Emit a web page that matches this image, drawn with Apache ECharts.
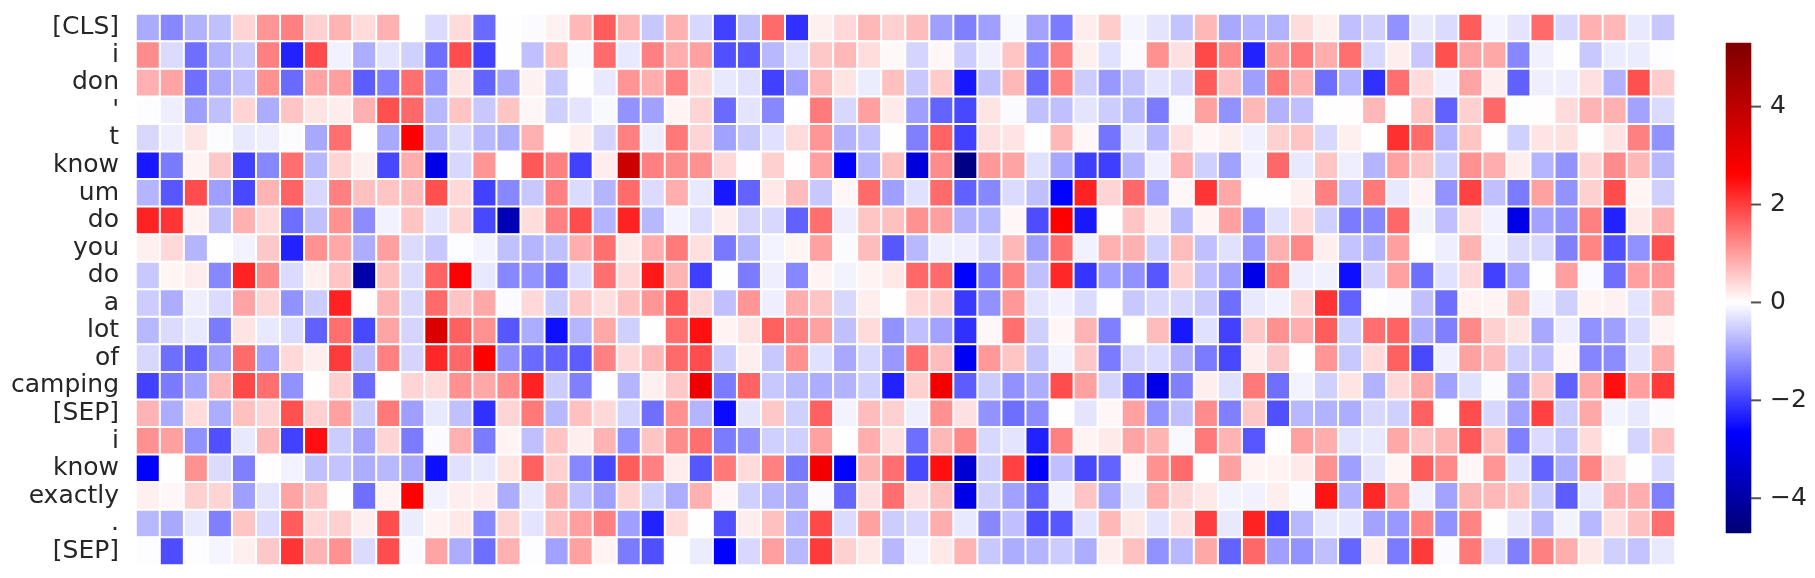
<!DOCTYPE html>
<html><head><meta charset="utf-8">
<style>html,body{margin:0;padding:0;background:#fff}#c{width:1815px;height:578px}</style>
<script src="https://cdn.jsdelivr.net/npm/echarts@6/dist/echarts.min.js"></script>
</head><body><div id="c"></div>
<script>
const tokens = ['[CLS]','i','don',"'",'t','know','um','do','you','do','a','lot','of','camping','[SEP]','i','know','exactly','.','[SEP]'];
const r00=[-.88,-1.24,-.8,-.65,.45,1.1,1.32,.49,.78,.37,.82,0,-.37,.37,-1.55,0,-.05,.15,.74,1.7,.78,-.57,.82,-.4,-1.97,-.65,1.55,-2.15,.16,.4,.74,.49,.7,-1,-1.32,-1,-.07,-.95,-1.37,.2,.53,-.1,-.28,-.62,.74,-.9,-.78,-.8,.36,.16,-.65,-.49,-1.15,-.24,-.37,1.7,-.1,-.28,1.55,-.4,.82,.74,-.24,-.57];
const r01=[1.2,-.37,-1.5,-.8,-.57,1.32,-2.3,1.87,-.14,-.85,-.28,-.49,-1.5,1.85,-1.97,0,-.65,.65,-.07,1.55,-.24,1.32,.85,.98,-1.82,-1.74,-.74,-.32,.57,.74,.35,.07,-.45,.08,-.53,-.16,.6,-1.24,1.32,.16,-.32,-.05,1.15,.32,1.9,1.2,-2.3,1.07,1.37,.85,1.5,-.4,.18,-.57,1.82,.95,.9,-1.24,-.16,0,-.57,-.2,-.2,-.02];
const r02=[.82,.95,-1.5,-.9,-.65,1.15,-1.55,.95,1,-1.7,-1.32,1.5,-1.15,.28,-1.62,-.9,.15,-.57,0,-.24,1.1,.85,1.32,.37,-.24,-.32,-1.97,-1,.74,.28,-.2,.65,-.57,.53,-2.4,-.65,.74,-1.55,1.32,-.53,-1.07,-.62,-.28,-.4,1.7,.65,-1,1.4,.82,-1.5,-.78,-2.15,1.5,.37,-.16,.95,.18,-1.65,-.18,-.18,.32,-.8,1.82,.53];
const r03=[-.02,-.18,-1,-.65,.45,-.85,.6,.28,.2,.82,1.82,1.57,-.74,.6,-.57,.6,.08,-.49,-.28,-.07,-1.12,-.98,.12,.45,-1.55,-.28,-1.24,0,1.37,-.4,1,.22,-1,-1.62,-1.9,.28,-.05,-.65,-.65,-.28,-.53,-.74,-1.37,-.05,.98,-1.15,.74,-.8,-.65,0,.02,.74,0,.6,-1.65,.49,1.57,0,.01,.37,.78,.82,-.95,-.37];
const r04=[-.4,-.18,.28,-.03,-.24,-.18,-.03,-.9,1.5,0,-.9,2.65,-.74,-.37,-.74,-.85,.82,.02,.16,-.45,1.32,-.18,1.4,.45,-.98,-.57,-.32,.37,1.1,-.8,-.62,0,-1.32,1.62,-1.97,.32,.28,0,.74,.08,-1.45,-.24,-.74,.32,.08,.18,-.16,.49,.6,-.4,.16,0,2.15,1.55,-.78,.6,0,-.49,.28,.32,0,.28,1.32,-1.12];
const r05=[-2.4,-1.37,.12,.57,-1.97,-1.24,1.5,-.74,.45,.16,-1.9,.85,-3,-.4,1.1,0,1.74,1.32,-1.97,.2,3.7,1.32,1.2,1.15,.4,.02,.49,.02,.98,-2.65,-.78,.65,-3.15,1.2,-4.45,1.07,.95,-.32,-.9,-2,-2,-.78,-.16,.82,-.49,-.98,-.14,1.57,-.24,.6,-.18,-.78,.98,.6,-.49,1.15,.85,.18,-.78,-1.12,.45,1.2,.74,-.74];
const r06=[-.78,-1.74,1.85,-1,-1.9,.78,1.62,-.4,1.32,.65,.6,.7,1.82,.4,-1.97,-1.24,-.57,1.32,-.37,-.78,1.55,-.37,.85,-.24,-2.4,-1.62,.24,.7,-.57,.08,1.55,-1,-.32,1.55,-1.65,-1.24,-.37,-.65,-2.65,2.3,.45,1.57,-.98,.08,2.1,.9,0,0,.16,1.32,-.65,1.4,-.24,.12,-1.12,1.97,-.65,-1.37,.98,-1.12,.49,1.85,.1,-.49];
const r07=[2.3,2.1,.12,-.65,.82,.37,-1.5,-.65,1.15,-1.2,-.14,.6,-.28,.45,-1.9,-3.75,.35,1.32,1.85,-.78,2.3,-.74,-.12,-.35,.18,-.45,-.4,-1.65,1.5,-.18,.6,.65,1.15,1,-.8,-.74,.08,-1.85,2.65,-2.4,0,.6,.18,-.74,.12,.98,-1.12,-.32,.4,-.49,-1.37,-1.24,1.57,-.12,-.65,.32,-.14,-3,-.95,-1.12,1.32,-2.3,.22,.82];
const r08=[.16,.4,-.78,-.01,-.12,.57,-2.3,1.15,.9,-.85,1,-.37,-.57,-.02,-.12,-.65,-.78,-.65,.85,1.5,.22,.85,1.37,.32,-1.4,-.78,-.12,.1,.98,-.05,.7,-1.74,-.74,-.18,-.18,-.37,.74,-1,1.5,-.14,.82,.82,-.49,.7,-.65,-.32,-1.07,.82,1.24,.18,-.62,-.8,1,0,-.18,.78,-.12,-.37,-.4,-1.32,1.27,-1.82,-1.15,1.82];
const r09=[-.57,.1,.2,-1.24,2.3,1.2,-.37,.16,.6,-3.9,.65,-.37,1.62,2.65,-.24,-1.24,-1.12,-1.5,-.37,1.5,.4,2.4,.78,-2,0,-1.37,-.18,-1.24,.12,-.12,.12,.24,1.57,1.55,-2.65,-1.4,1.32,-.65,2.25,-2.1,-1,-1.15,-1.74,.49,-.65,-1,-3,1.4,-.18,-.16,-2.5,-.45,.98,-1.5,-.32,.4,-1.97,-.95,0,1,-.05,-1.5,1,1.07];
const r10=[-.53,-.85,-.18,-.37,.95,.45,-1.15,-.53,2.3,0,.78,-.4,1.55,.6,.9,-.05,.4,-.53,.57,.32,.65,1.1,1.74,.4,-.65,1.1,-.18,.85,.6,-.4,.18,0,.4,.49,-2.05,-1.15,1.07,-.28,-.14,-.37,0,-.57,-.4,-.4,-.57,-1.5,-.24,-.14,.45,2.1,-1.65,0,-.05,-.65,-1.5,.12,.12,.65,-.14,-.49,.12,.14,-.28,.74];
const r11=[-.74,-.37,-.24,-1.37,.28,-.24,-.37,-1.65,1.5,-1.9,.95,-.45,3.4,1.65,1.15,-1.74,-.85,-2.5,-.78,.9,-.49,0,1.5,2.5,.12,.28,1.65,1.32,.98,-.65,.37,-1.12,-.65,-.95,-2.15,.08,1.5,-.49,.08,.78,-1.32,0,.7,-2.4,-.32,-1.97,.57,1.15,.85,1.7,-.49,1.5,1.62,-.85,-1.32,1.24,.49,.28,-.9,-.18,-1.15,-1,-.37,.12];
const r12=[-.4,-1.5,-1.65,-.98,1.55,-.98,.4,.18,2.05,-.65,1.32,-.45,2.25,1.57,2.65,-1.15,-1.55,-1.62,-1.7,1.32,.4,.74,1.55,1.85,-.53,.18,-.57,1.15,-.32,-.9,-.4,-1.07,1.5,.7,-2.8,1.07,.6,-.62,-.12,.57,-1.37,-.45,-.37,-.8,-1.37,-1.9,.18,.57,0,1.1,-.57,.37,1.65,-1.9,-.16,.98,.7,-.49,-.65,.08,-1.27,-1.2,-.28,.85];
const r13=[-1.97,-1.37,-.98,.74,1.9,1.5,-1.15,0,.49,-1.55,0,.45,.37,1.15,.9,1.2,2.3,-.53,-1.32,0,-.78,.16,.57,3,-1.37,1.62,-.57,-.74,-.85,-.8,-.49,-2.3,.49,2.85,-1.7,-.53,-1.15,-.85,1.85,.98,-.45,-1.55,-3,-1.32,.18,-.32,1.4,-1.5,-.12,-.49,.28,-.8,.4,.9,-.98,-.32,-.05,-1,.57,-1.65,.9,2.5,1,2.05];
const r14=[.78,-.85,.37,-.85,.65,.45,1.82,.49,.98,-.53,1.4,-1,-.24,-.65,-2.15,.45,1.4,-.74,.65,.4,-.45,-1.5,1.15,-.78,-2.55,-.28,.57,-.49,1.65,-.12,.7,.49,-.18,1.15,.32,-1.12,-1.5,-1.2,0,-.28,.08,.98,-1.12,-.65,1.2,-1.32,.57,-1.82,-.74,-.8,-.85,-.4,-.49,1.65,0,1.85,-.4,-.95,1.97,-.53,.9,-.12,-.24,-.05];
const r15=[1.15,1,-1.15,-1.82,-.24,.74,-1.97,2.5,-.53,-.95,.45,-1.37,-.05,.82,-1.37,.12,-.65,.6,.18,.78,-1.15,.6,1.2,1.5,-1.37,-1.12,-.49,-.49,.98,0,.85,.32,-1.5,.74,1.24,-.4,-.28,-2.3,1.32,.12,.22,.95,.78,-.07,1.4,.78,-1.74,0,.98,.85,-.28,-.24,.9,.6,.78,1.74,.65,-1.32,-.37,-.62,.37,0,-.45,.65];
const r16=[-2.65,0,1.15,-.37,-1.32,.02,-.12,-.65,-.62,-.85,-.74,-.9,-2.5,-.32,-.24,.28,1.65,.49,-1.24,-1.9,1.7,1.32,.2,-1.74,1.4,.37,1.32,-1.4,2.85,-2.65,.78,1.5,-1.9,2.5,-3.3,-.49,1.97,-2.75,-.65,-1.9,-1.62,.08,1.15,1.55,0,.98,.12,.12,.22,1.15,-1,-.28,.1,1.7,1.24,.08,1.1,-.32,-1.62,-.85,1.27,.35,0,-.37];
const r17=[.16,.08,.49,.45,-1,-.28,.95,.6,0,-1.5,.12,2.65,-.14,.18,.2,-.85,-.24,.78,-.62,-1,.45,-.49,-.85,.82,.08,-.49,-.78,-.9,-.05,-1.6,.32,1.5,.32,.65,-3,-.49,-.98,-1.65,-.14,.6,-.9,-.24,.85,.4,.24,-.12,-.14,.18,-.05,2.45,-.8,2.25,.98,-.14,-.95,.78,.74,.65,-.53,-1.7,-.24,.82,.85,-1.32];
const r18=[-.74,-.9,-.24,-1.32,.6,-.37,1.7,.4,.49,.18,1.85,-.2,.12,.24,-1.24,.45,-.28,.65,1,1.32,-1,-2.3,.37,0,-1.82,.2,.65,-.78,1.9,-.37,.98,-.53,-.4,.85,-.24,-1.24,-.65,-1.85,-1.74,-.28,.74,.24,-.28,.32,2,-.24,2.3,-2,-.74,-.24,-.24,-.95,-1.07,1.27,-1.15,1.27,0,-.24,-.74,-.12,-.74,.32,.65,1.5];
const r19=[-.02,-1.85,-.02,-.1,.16,.57,2.1,.78,1.15,-.37,1.85,-.05,.95,-.85,-1.5,.82,-.02,-.98,.98,.12,-1.37,-1.82,0,-.2,-2.65,-.4,1,-.74,2.05,.49,.24,-.74,-.12,.24,.78,-.57,-.85,-.78,-.53,-.85,.18,.65,-1.15,-.74,.9,-1.62,1.57,-1,-1.12,-.65,-1.6,.2,-1.37,2.05,-.05,1.4,-.37,-1.32,1.32,.85,.24,-.49,-.62,-.24];
const rows=[r00,r01,r02,r03,r04,r05,r06,r07,r08,r09,r10,r11,r12,r13,r14,r15,r16,r17,r18,r19];
const barTicks=[-4,-2,0,2,4];
const vMin=-4.71, vMax=5.3, vRange=5.3;

const anchors=[[0,0,.3],[0,0,1],[1,1,1],[1,0,0],[.5,0,0]];
function seismic(v){
  const t=Math.max(0,Math.min(1,(v+vRange)/(2*vRange)))*4, i=Math.min(3,Math.floor(t)), f=t-i;
  const c=anchors[i].map((a,k)=>Math.round(255*(a+(anchors[i+1][k]-a)*f)));
  return `rgb(${c[0]},${c[1]},${c[2]})`;
}
const stops=[];
for(let i=0;i<=400;i++) stops.push(seismic(vMin+(vMax-vMin)*i/400));
const cells=[];
rows.forEach((r,y)=>r.forEach((v,x)=>cells.push([x,y,v])));
const xcats=rows[0].map((_,i)=>String(i));
// colour-bar levels, one band per level, lowest first
const levelCount=245;
const levels=[];
for(let i=0;i<levelCount;i++) levels.push(vMin+(vMax-vMin)*(i+.5)/levelCount);
const levelCats=levels.map((_,i)=>String(i));
const levelCells=levels.map((v,i)=>[0,i,v]);
const font='"DejaVu Sans"';
const chart=echarts.init(document.getElementById('c'),null,{renderer:'canvas'});
chart.setOption({
  animation:false,
  backgroundColor:'#fff',
  grid:[
    {left:136,right:140,top:14,bottom:13},
    {left:1726,width:25,top:43,height:490}
  ],
  xAxis:[
    {type:'category',data:xcats,gridIndex:0,show:false},
    {type:'value',gridIndex:1,show:false,min:0,max:1},
    {type:'category',data:['0'],gridIndex:1,show:false}
  ],
  yAxis:[
    {type:'category',data:tokens.map((t,i)=>i+''),inverse:true,gridIndex:0,
     axisLine:{show:false},axisTick:{show:false},splitLine:{show:false},
     axisLabel:{interval:0,margin:17,color:'#262626',fontFamily:font,fontSize:25,
       formatter:(v)=>tokens[+v]}},
    {type:'value',gridIndex:1,position:'right',min:vMin,max:vMax,
     axisLine:{show:false},splitLine:{show:false},axisTick:{show:false},
     axisLabel:{show:true,margin:19,color:'#262626',fontFamily:font,fontSize:25,customValues:barTicks,
       padding:[6,0,0,0],formatter:(v)=>String(v).replace('-','\u2212')}},
    {type:'category',data:levelCats,gridIndex:1,show:false}
  ],
  visualMap:{type:'continuous',show:false,seriesIndex:[0,2],min:vMin,max:vMax,inRange:{color:stops}},
  series:[
    {type:'heatmap',xAxisIndex:0,yAxisIndex:0,data:cells,progressive:0,
     itemStyle:{borderColor:'#fff',borderWidth:2},emphasis:{disabled:true}},
    {type:'scatter',xAxisIndex:1,yAxisIndex:1,data:barTicks.map(v=>[1,v]),silent:true,clip:false,
     symbol:'rect',symbolSize:[10,2],symbolOffset:[5,0],itemStyle:{color:'#262626'},emphasis:{disabled:true}},
    {type:'heatmap',xAxisIndex:2,yAxisIndex:2,data:levelCells,progressive:0,silent:true,
     itemStyle:{borderWidth:0},emphasis:{disabled:true}}
  ]
});
</script></body></html>
